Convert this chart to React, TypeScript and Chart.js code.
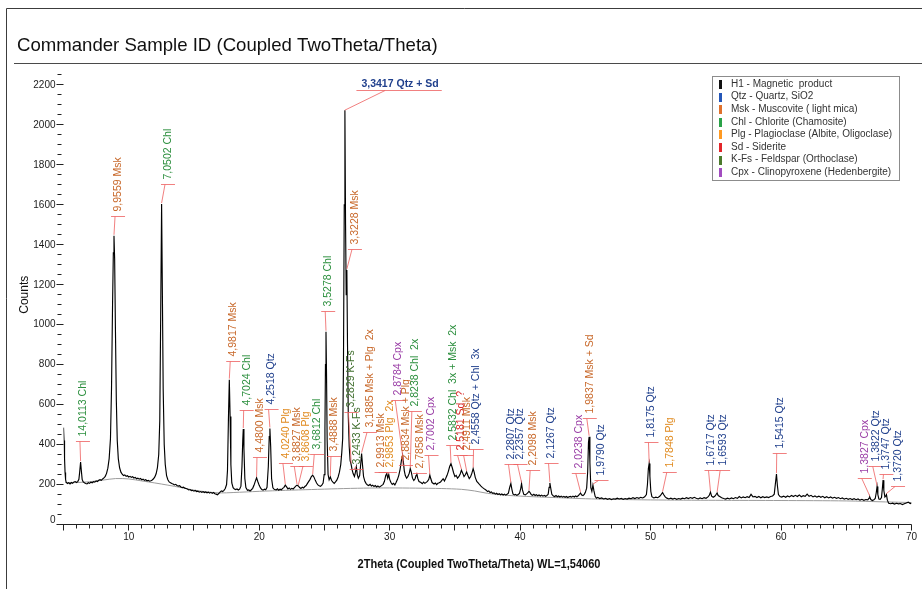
import React, { useEffect, useRef } from "react";
import { Chart, registerables } from "chart.js";

Chart.register(...registerables);

type Pt = [number, number];

// ---- text ----
const TITLE = "Commander Sample ID (Coupled TwoTheta/Theta)";
const X_TITLE = "2Theta (Coupled TwoTheta/Theta) WL=1,54060";
const Y_TITLE = "Counts";

const xTickLabels = [10, 20, 30, 40, 50, 60, 70];
const yTickLabels = [0, 200, 400, 600, 800, 1000, 1200, 1400, 1600, 1800, 2000, 2200];

// ---- phases ----
const phaseKeys = ["H1", "Qtz", "Msk", "Chl", "Plg", "Sd", "K-Fs", "Cpx"];
const phaseNames = [
  "H1 - Magnetic  product",
  "Qtz - Quartz, SiO2",
  "Msk - Muscovite ( light mica)",
  "Chl - Chlorite (Chamosite)",
  "Plg - Plagioclase (Albite, Oligoclase)",
  "Sd - Siderite",
  "K-Fs - Feldspar (Orthoclase)",
  "Cpx - Clinopyroxene (Hedenbergite)",
];
const phaseSwatch = ["#111111", "#2456b8", "#e0712c", "#2aa248", "#ff9a22", "#e3252a", "#4b7a2c", "#a24cc0"];
const phaseInk: Record<string, string> = {
  Qtz: "#1f3f8c",
  Msk: "#c8682a",
  Chl: "#2c8f3e",
  Plg: "#e08a1e",
  Sd: "#d92a2a",
  "K-Fs": "#3f6e2c",
  Cpx: "#9a3ea6",
};

// ---- measured scan (2θ, counts) ----
const scanLow: Pt[] = [
  [5.0, 485], [5.04, 420], [5.08, 330], [5.12, 260], [5.16, 225], [5.2, 212], [5.3, 205], [5.4, 209], [5.5, 203],
  [5.6, 210], [5.7, 206], [5.8, 213], [5.9, 215], [6.0, 210], [6.1, 216], [6.18, 226], [6.24, 262], [6.31, 312],
  [6.37, 268], [6.43, 226], [6.5, 214], [6.6, 209], [6.7, 205], [6.8, 203], [6.9, 209], [7.0, 206], [7.1, 212],
  [7.2, 209], [7.3, 214], [7.4, 212], [7.5, 218], [7.6, 215], [7.7, 221], [7.8, 224], [7.9, 221], [8.0, 228],
  [8.1, 233], [8.2, 241], [8.3, 256], [8.4, 282], [8.5, 330], [8.6, 430], [8.68, 680], [8.76, 1100], [8.82, 1360],
  [8.87, 1445], [8.92, 1330], [8.98, 980], [9.05, 620], [9.12, 420], [9.2, 330], [9.3, 284], [9.4, 262], [9.5, 252],
  [9.6, 245], [9.7, 248], [9.8, 241], [9.9, 244], [10.0, 238], [10.1, 241], [10.2, 236], [10.3, 239], [10.4, 233],
  [10.5, 236], [10.6, 229], [10.7, 232], [10.8, 227], [10.9, 230], [11.0, 224], [11.1, 227], [11.2, 221], [11.3, 224],
  [11.4, 219], [11.5, 221], [11.6, 217], [11.7, 219], [11.8, 223], [11.9, 229], [12.0, 238], [12.1, 254], [12.2, 285],
  [12.3, 350], [12.38, 520], [12.45, 1050], [12.52, 1604], [12.58, 1150], [12.64, 680], [12.72, 400], [12.8, 300],
  [12.9, 245], [13.0, 224],
];

const scanMid: Pt[] = [
  [13.1, 213], [13.2, 209], [13.3, 205], [13.4, 203], [13.5, 198], [13.6, 201], [13.7, 195], [13.8, 192], [13.9, 194],
  [14.0, 188], [14.1, 185], [14.2, 187], [14.3, 182], [14.4, 180], [14.5, 178], [14.6, 173], [14.7, 175], [14.8, 170],
  [14.9, 171], [15.0, 167], [15.1, 170], [15.2, 165], [15.3, 167], [15.4, 162], [15.5, 165], [15.6, 161], [15.7, 164],
  [15.8, 160], [15.9, 163], [16.0, 159], [16.1, 162], [16.2, 157], [16.3, 161], [16.4, 156], [16.5, 160], [16.6, 154],
  [16.7, 152], [16.8, 149], [16.9, 155], [17.0, 162], [17.1, 168], [17.2, 165], [17.3, 171], [17.4, 180], [17.5, 200],
  [17.57, 270], [17.64, 520], [17.71, 725], [17.77, 540], [17.83, 300], [17.9, 208], [18.0, 184], [18.1, 178],
  [18.2, 175], [18.3, 178], [18.4, 173], [18.5, 177], [18.6, 192], [18.68, 290], [18.74, 420], [18.78, 478],
  [18.83, 380], [18.9, 230], [18.98, 185], [19.1, 171], [19.2, 173], [19.3, 168], [19.4, 174], [19.5, 181], [19.6, 196],
  [19.7, 216], [19.8, 234], [19.9, 214], [20.0, 196], [20.1, 183], [20.2, 175], [20.3, 172], [20.4, 177], [20.5, 174],
  [20.6, 186], [20.7, 290], [20.77, 440], [20.82, 481], [20.88, 390], [20.95, 230], [21.05, 184], [21.15, 176],
  [21.3, 173], [21.4, 179], [21.5, 172], [21.6, 177], [21.7, 174], [21.8, 181], [21.9, 186], [22.0, 197], [22.1, 188],
  [22.2, 178], [22.3, 183], [22.4, 176], [22.5, 181], [22.6, 178], [22.7, 185], [22.8, 192], [22.9, 197], [23.0, 193],
  [23.1, 185], [23.2, 180], [23.3, 187], [23.4, 183], [23.5, 190], [23.6, 195], [23.7, 206], [23.8, 216], [23.9, 226],
  [24.0, 240], [24.1, 247], [24.2, 237], [24.3, 221], [24.4, 208], [24.5, 198], [24.6, 194], [24.7, 191], [24.8, 197],
  [24.9, 207], [24.98, 250], [25.04, 480], [25.08, 800], [25.12, 965], [25.16, 760], [25.21, 420], [25.28, 250],
  [25.36, 224], [25.45, 238], [25.55, 220], [25.65, 212], [25.75, 206], [25.85, 213], [25.95, 222], [26.05, 238],
  [26.15, 262], [26.25, 300], [26.33, 360],
];

const scanQuartz: Pt[] = [
  [26.4, 430], [26.46, 800], [26.52, 1600], [26.57, 2074], [26.62, 1500], [26.67, 1150], [26.72, 1274], [26.77, 900],
  [26.83, 540], [26.9, 390], [26.97, 320], [27.05, 300], [27.12, 275], [27.2, 255], [27.3, 240], [27.38, 262],
  [27.45, 288], [27.52, 250], [27.6, 232], [27.7, 245], [27.78, 300], [27.85, 355], [27.92, 298], [28.0, 240],
  [28.1, 216], [28.2, 205], [28.3, 198], [28.4, 195], [28.5, 201], [28.6, 193], [28.7, 197], [28.8, 190], [28.9, 195],
  [29.0, 188], [29.1, 193], [29.2, 187], [29.3, 191], [29.4, 196], [29.5, 201], [29.6, 216], [29.7, 246], [29.78, 255],
  [29.85, 232], [29.93, 250], [30.0, 226], [30.1, 210], [30.2, 201], [30.3, 206], [30.4, 198], [30.5, 211], [30.6, 226],
  [30.7, 246], [30.8, 276], [30.9, 320], [30.99, 347], [31.05, 315], [31.12, 270], [31.2, 245], [31.3, 232], [31.4, 241],
  [31.5, 256], [31.58, 280], [31.66, 262], [31.75, 232], [31.85, 220], [31.95, 229], [32.02, 245], [32.08, 256],
  [32.15, 232], [32.25, 215], [32.4, 210], [32.5, 204], [32.6, 212], [32.7, 206], [32.8, 211], [32.9, 216], [33.0, 226],
  [33.08, 247], [33.15, 230], [33.25, 210], [33.4, 203], [33.5, 208], [33.6, 200], [33.7, 206], [33.8, 209], [33.9, 213],
  [34.0, 221], [34.1, 229], [34.2, 218], [34.3, 231], [34.4, 246], [34.5, 266], [34.6, 290], [34.7, 305], [34.8, 284],
  [34.9, 259], [35.0, 240], [35.1, 246], [35.2, 232], [35.3, 239], [35.4, 251], [35.5, 272], [35.6, 257], [35.7, 240],
  [35.8, 249], [35.9, 263], [36.0, 245], [36.1, 230], [36.2, 239], [36.3, 256], [36.4, 280], [36.48, 261], [36.56, 236],
  [36.68, 216], [36.8, 207], [36.9, 199],
];

const scanHigh: Pt[] = [
  [37.0, 192], [37.1, 186], [37.2, 181], [37.3, 176], [37.4, 172], [37.5, 165], [37.6, 168], [37.7, 160], [37.8, 163],
  [37.9, 156], [38.0, 158], [38.1, 152], [38.2, 156], [38.3, 150], [38.4, 154], [38.5, 149], [38.6, 153], [38.7, 148],
  [38.8, 152], [38.9, 147], [39.0, 151], [39.1, 157], [39.2, 186], [39.29, 205], [39.37, 176], [39.45, 153], [39.55, 148],
  [39.65, 151], [39.75, 146], [39.85, 150], [39.95, 156], [40.05, 181], [40.11, 205], [40.18, 173], [40.28, 151],
  [40.4, 148], [40.5, 153], [40.6, 159], [40.68, 167], [40.76, 160], [40.85, 150], [40.95, 146], [41.05, 151],
  [41.15, 145], [41.25, 149], [41.35, 144], [41.45, 148], [41.55, 143], [41.65, 147], [41.75, 142], [41.85, 146],
  [41.95, 141], [42.05, 145], [42.15, 151], [42.22, 186], [42.28, 208], [42.35, 181], [42.43, 151], [42.55, 143],
  [42.65, 140], [42.75, 145], [42.85, 139], [42.95, 143], [43.05, 138], [43.15, 142], [43.25, 137], [43.35, 141],
  [43.45, 136], [43.55, 140], [43.65, 135], [43.75, 139], [43.85, 141], [43.95, 137], [44.05, 142], [44.15, 138],
  [44.25, 143], [44.35, 139], [44.45, 144], [44.55, 151], [44.63, 158], [44.72, 148], [44.82, 145], [44.92, 151],
  [45.0, 161], [45.1, 182], [45.18, 265], [45.24, 410], [45.29, 439], [45.35, 310], [45.42, 185], [45.5, 166],
  [45.58, 197], [45.66, 168], [45.75, 141], [45.85, 132], [45.95, 136], [46.1, 130], [46.25, 133], [46.4, 128],
  [46.55, 131], [46.7, 126], [46.85, 130], [47.0, 125], [47.15, 129], [47.3, 127], [47.45, 132], [47.6, 128],
  [47.75, 131], [47.9, 126], [48.05, 130], [48.2, 127], [48.35, 132], [48.5, 129], [48.65, 134], [48.8, 130],
  [48.95, 135], [49.1, 131], [49.25, 136], [49.4, 133], [49.55, 139], [49.68, 150], [49.76, 200], [49.83, 280],
  [49.89, 305], [49.95, 240], [50.02, 165], [50.1, 139], [50.25, 133], [50.4, 137], [50.55, 134], [50.7, 141],
  [50.82, 151], [50.92, 160], [51.0, 150], [51.12, 138], [51.25, 132], [51.4, 128], [51.55, 132], [51.7, 127],
  [51.85, 131], [52.0, 126], [52.15, 130], [52.3, 127], [52.45, 132], [52.6, 129], [52.75, 134], [52.9, 130],
  [53.05, 135], [53.2, 131], [53.35, 136], [53.5, 131], [53.65, 128], [53.8, 133], [53.95, 129], [54.1, 134],
  [54.25, 131], [54.4, 138], [54.5, 146], [54.59, 162], [54.68, 142], [54.8, 136], [54.92, 141], [55.02, 150],
  [55.1, 158], [55.18, 145], [55.3, 140], [55.45, 134], [55.6, 130], [55.75, 127], [55.9, 132], [56.05, 128],
  [56.2, 133], [56.35, 129], [56.5, 135], [56.65, 131], [56.8, 140], [56.95, 133], [57.1, 138], [57.25, 134],
  [57.4, 139], [57.55, 135], [57.7, 151], [57.85, 138], [58.0, 141], [58.15, 135], [58.3, 140], [58.45, 134],
  [58.6, 139], [58.75, 135], [58.9, 138], [59.05, 135], [59.2, 140], [59.35, 143], [59.48, 152], [59.56, 200],
  [59.65, 252], [59.72, 195], [59.8, 150], [59.92, 140], [60.05, 137], [60.2, 142], [60.35, 136], [60.5, 143],
  [60.65, 138], [60.8, 145], [60.95, 140], [61.1, 146], [61.25, 140], [61.4, 148], [61.55, 139], [61.7, 144],
  [61.85, 141], [62.0, 152], [62.15, 141], [62.3, 146], [62.45, 138], [62.6, 143], [62.75, 137], [62.9, 142],
  [63.05, 136], [63.2, 141], [63.35, 134], [63.5, 139], [63.65, 133], [63.8, 138], [63.95, 132], [64.1, 136],
  [64.25, 131], [64.4, 135], [64.55, 129], [64.7, 133], [64.85, 127], [65.0, 131], [65.15, 126], [65.3, 130],
  [65.45, 125], [65.6, 129], [65.75, 124], [65.9, 128], [66.05, 122], [66.2, 126], [66.35, 121], [66.5, 125],
  [66.65, 123], [66.75, 132], [66.8, 138], [66.88, 125], [67.0, 120], [67.12, 124], [67.22, 130], [67.3, 160],
  [67.36, 190], [67.42, 150], [67.5, 128], [67.6, 126], [67.7, 135], [67.76, 175], [67.82, 222], [67.88, 170],
  [67.96, 138], [68.02, 142], [68.08, 150], [68.15, 122], [68.25, 106], [68.4, 104], [68.55, 107], [68.7, 102],
  [68.85, 106], [69.0, 103], [69.15, 105], [69.3, 100], [69.45, 104], [69.6, 108], [69.75, 112], [69.9, 105], [70.0, 107],
];

// ---- fitted background ----
const bgAngles = [5.15, 6, 7, 8, 9, 10, 11, 12, 13, 14, 15, 16, 17, 18, 19, 20, 22, 24, 26, 28, 30, 32, 34, 35.5, 36.5, 37.5, 39, 41, 43, 45, 47, 50, 55, 60, 65, 68, 70];
const bgCounts = [210, 210, 214, 222, 230, 228, 218, 208, 197, 185, 172, 163, 158, 160, 163, 166, 171, 175, 179, 182, 183, 182, 180, 176, 168, 156, 146, 139, 134, 129, 126, 123, 121, 120, 118, 113, 110];

// ---- peak identifications: [text, phase, peak 2θ, label 2θ, label level (counts)] ----
const peakLabels: [string, string, number, number, number][] = [
  ["14,0113 Chl", "Chl", 6.31, 6.49, 417],
  ["9,9559 Msk", "Msk", 8.87, 9.18, 1544],
  ["7,0502 Chl", "Chl", 12.52, 13.01, 1703],
  ["4,9817 Msk", "Msk", 17.71, 18.01, 818],
  ["4,7024 Chl", "Chl", 18.78, 19.04, 572],
  ["4,4800 Msk", "Msk", 19.8, 20.06, 335],
  ["4,2518 Qtz", "Qtz", 20.82, 20.95, 576],
  ["4,0240 Plg", "Plg", 22.0, 22.05, 305],
  ["3,8827 Msk", "Msk", 22.9, 22.92, 292],
  ["3,8608 Plg", "Plg", 23.0, 23.58, 292],
  ["3,6812 Chl", "Chl", 24.1, 24.45, 352],
  ["3,5278 Chl", "Chl", 25.12, 25.29, 1065],
  ["3,4888 Msk", "Msk", 25.45, 25.73, 342],
  ["3,3228 Msk", "Msk", 26.72, 27.34, 1374],
  ["3,2829 K-Fs", "K-Fs", 27.05, 27.07, 560],
  ["3,2433 K-Fs", "K-Fs", 27.45, 27.47, 275],
  ["3,1885 Msk + Plg  2x", "Msk", 27.85, 28.49, 459],
  ["2,9913 Msk", "Msk", 29.78, 29.38, 258],
  ["2,9853 Plg  2x", "Plg", 29.93, 30.02, 258],
  ["2,8784 Cpx", "Cpx", 31.05, 30.66, 623],
  ["2,8834 Msk + Plg", "Msk", 30.99, 31.25, 297],
  ["2,8238 Chl  2x", "Chl", 31.58, 31.93, 564],
  ["2,7858 Msk", "Msk", 32.08, 32.32, 257],
  ["2,7002 Cpx", "Cpx", 33.08, 33.21, 347],
  ["2,5832 Chl  3x + Msk  2x", "Chl", 34.7, 34.87, 397],
  ["2,5181 Sd  ?", "Sd", 35.5, 35.44, 347],
  ["2,4911 Msk", "Msk", 35.9, 35.9, 347],
  ["2,4558 Qtz + Chl  3x", "Qtz", 36.4, 36.66, 377],
  ["2,2807 Qtz", "Qtz", 39.29, 39.34, 302],
  ["2,2357 Qtz", "Qtz", 40.11, 40.03, 302],
  ["2,2098 Msk", "Msk", 40.68, 41.0, 272],
  ["2,1267 Qtz", "Qtz", 42.28, 42.41, 305],
  ["2,0238 Cpx", "Cpx", 44.63, 44.5, 255],
  ["1,9837 Msk + Sd", "Msk", 45.29, 45.34, 531],
  ["1,9790 Qtz", "Qtz", 45.58, 46.24, 218],
  ["1,8175 Qtz", "Qtz", 49.89, 50.07, 409],
  ["1,7848 Plg", "Plg", 50.92, 51.47, 260],
  ["1,6717 Qtz", "Qtz", 54.59, 54.67, 272],
  ["1,6593 Qtz", "Qtz", 55.1, 55.56, 272],
  ["1,5415 Qtz", "Qtz", 59.65, 59.9, 355],
  ["1,3827 Cpx", "Cpx", 66.8, 66.42, 230],
  ["1,3822 Qtz", "Qtz", 67.36, 67.26, 288],
  ["1,3747 Qtz", "Qtz", 67.82, 68.08, 252],
  ["1,3720 Qtz", "Qtz", 68.08, 68.97, 188],
];
// strongest reflection, labelled horizontally above the scan
const topLabel: [string, string, number, number, number] = ["3,3417 Qtz + Sd", "Qtz", 26.57, 30.8, 2174];

const SANS = '"Liberation Sans", Arial, Helvetica, sans-serif';
const LEADER = "rgba(238, 96, 96, 0.8)";

const scan: Pt[] = [...scanLow, ...scanMid, ...scanQuartz, ...scanHigh];

function countsAt(t: number): number {
  for (let i = 1; i < scan.length; i++) {
    const [x0, y0] = scan[i - 1];
    const [x1, y1] = scan[i];
    if (t <= x1) {
      const f = x1 === x0 ? 0 : (t - x0) / (x1 - x0);
      return y0 + (y1 - y0) * Math.max(0, Math.min(1, f));
    }
  }
  return scan[scan.length - 1][1];
}

const crisp = (v: number) => Math.round(v - 0.5) + 0.5;

const decorPlugin = {
  id: "xrdDecor",
  afterDraw(chart: any) {
    const { ctx, chartArea: a } = chart;
    const xs = chart.scales.x;
    const ys = chart.scales.y;
    const W = chart.width;
    const H = chart.height;
    ctx.save();

    // outer frame and title block
    ctx.strokeStyle = "#3c3c3c";
    ctx.lineWidth = 1;
    ctx.beginPath();
    ctx.moveTo(6.5, H);
    ctx.lineTo(6.5, 8.5);
    ctx.lineTo(W, 8.5);
    ctx.stroke();
    ctx.fillStyle = "#111";
    ctx.font = `18.6px ${SANS}`;
    ctx.textAlign = "left";
    ctx.textBaseline = "alphabetic";
    ctx.fillText(TITLE, 17, 51);
    ctx.strokeStyle = "#4a4a4a";
    ctx.beginPath();
    ctx.moveTo(14, 63.5);
    ctx.lineTo(W, 63.5);
    ctx.stroke();

    // x axis
    const y0 = crisp(ys.getPixelForValue(0));
    ctx.strokeStyle = "#222";
    ctx.beginPath();
    ctx.moveTo(57, y0);
    ctx.lineTo(a.right, y0);
    for (let t = 5; t <= 70; t++) {
      const x = crisp(xs.getPixelForValue(t));
      ctx.moveTo(x, y0);
      ctx.lineTo(x, y0 + (t % 5 === 0 ? 6 : 4));
    }
    ctx.stroke();
    ctx.fillStyle = "#1a1a1a";
    ctx.font = `10px ${SANS}`;
    ctx.textAlign = "center";
    ctx.textBaseline = "middle";
    xTickLabels.forEach((t) => ctx.fillText(String(t), xs.getPixelForValue(t), y0 + 13));

    // y axis ticks
    ctx.beginPath();
    for (let v = 0; v <= 2250; v += 50) {
      const y = crisp(ys.getPixelForValue(v));
      if (v % 200 === 0) {
        ctx.moveTo(a.left - 7, y);
        ctx.lineTo(a.left, y);
      } else {
        ctx.moveTo(a.left - 6, y);
        ctx.lineTo(a.left - 2, y);
      }
    }
    ctx.stroke();
    ctx.textAlign = "right";
    yTickLabels.forEach((v) => {
      const y = ys.getPixelForValue(v) - (v === 0 ? 4 : 0);
      ctx.fillText(String(v), a.left - 8, y);
    });

    // axis titles
    ctx.font = `12px ${SANS}`;
    ctx.fillStyle = "#111";
    ctx.save();
    ctx.translate(25, (a.top + a.bottom) / 2);
    ctx.rotate(-Math.PI / 2);
    ctx.textAlign = "center";
    ctx.fillText(Y_TITLE, 0, 0);
    ctx.restore();
    ctx.save();
    ctx.font = `bold 12px ${SANS}`;
    const tw = ctx.measureText(X_TITLE).width;
    ctx.translate(479, 565);
    ctx.scale(243 / tw, 1);
    ctx.textAlign = "center";
    ctx.fillText(X_TITLE, 0, 0);
    ctx.restore();

    // peak identifications
    ctx.lineWidth = 1;
    peakLabels.forEach(([text, phase, peak, at, level]) => {
      const px = xs.getPixelForValue(peak);
      const py = ys.getPixelForValue(countsAt(peak));
      const lx = xs.getPixelForValue(at);
      const by = crisp(ys.getPixelForValue(level));
      ctx.strokeStyle = LEADER;
      ctx.beginPath();
      ctx.moveTo(px, py - 1);
      ctx.lineTo(lx - 3, by);
      ctx.moveTo(lx - 7, by);
      ctx.lineTo(lx + 7, by);
      ctx.stroke();
      ctx.save();
      ctx.translate(lx, by - 5);
      ctx.rotate(-Math.PI / 2);
      ctx.font = `10.5px ${SANS}`;
      ctx.fillStyle = phaseInk[phase];
      ctx.textAlign = "left";
      ctx.textBaseline = "middle";
      ctx.fillText(text, 0, 0);
      ctx.restore();
    });
    {
      const [text, phase, peak, at, level] = topLabel;
      const px = xs.getPixelForValue(peak);
      const py = ys.getPixelForValue(countsAt(peak));
      const cx = xs.getPixelForValue(at);
      const by = crisp(ys.getPixelForValue(level));
      ctx.font = `bold 10.5px ${SANS}`;
      const w = ctx.measureText(text).width;
      ctx.strokeStyle = LEADER;
      ctx.beginPath();
      ctx.moveTo(px, py);
      ctx.lineTo(cx - 15, by);
      ctx.moveTo(cx - w / 2 - 5, by);
      ctx.lineTo(cx + w / 2 + 3, by);
      ctx.stroke();
      ctx.fillStyle = phaseInk[phase];
      ctx.textAlign = "center";
      ctx.textBaseline = "alphabetic";
      ctx.fillText(text, cx, by - 4);
    }

    // legend
    const lx0 = 712.5;
    const ly0 = 76.5;
    ctx.fillStyle = "#fff";
    ctx.fillRect(lx0, ly0, 187, 104);
    ctx.strokeStyle = "#8c8c8c";
    ctx.strokeRect(lx0, ly0, 187, 104);
    ctx.font = `10px ${SANS}`;
    ctx.textAlign = "left";
    ctx.textBaseline = "middle";
    phaseKeys.forEach((_, i) => {
      const y = 84 + i * 12.6;
      ctx.fillStyle = phaseSwatch[i];
      ctx.fillRect(719, Math.round(y - 4), 3, 9);
      ctx.fillStyle = "#333";
      ctx.fillText(phaseNames[i], 731, y);
    });

    ctx.restore();
  },
};

export default function App() {
  const ref = useRef<HTMLCanvasElement | null>(null);

  useEffect(() => {
    document.body.style.margin = "0";
    document.body.style.background = "#fff";
    const canvas = ref.current;
    if (!canvas) return;
    const chart = new Chart(canvas, {
      type: "line",
      data: {
        datasets: [
          {
            label: "H1",
            data: scan.map(([x, y]) => ({ x, y })),
            borderColor: "#000",
            borderWidth: 1.15,
            pointRadius: 0,
            tension: 0,
          },
          {
            label: "Background",
            data: bgAngles.map((x, i) => ({ x, y: bgCounts[i] })),
            borderColor: "#9c9c9c",
            borderWidth: 1,
            pointRadius: 0,
            tension: 0.3,
          },
        ],
      },
      options: {
        responsive: false,
        animation: false,
        devicePixelRatio: 1,
        layout: { padding: { left: 63.5, right: 10.5, top: 65, bottom: 64.5 } },
        scales: {
          x: { type: "linear", min: 5, max: 70, display: false },
          y: { type: "linear", min: 0, max: 2300, display: false },
        },
        plugins: {
          legend: { display: false },
          tooltip: { enabled: false },
          title: { display: false },
        },
      },
      plugins: [decorPlugin],
    });
    return () => chart.destroy();
  }, []);

  return <canvas ref={ref} width={922} height={589} style={{ display: "block" }} />;
}
